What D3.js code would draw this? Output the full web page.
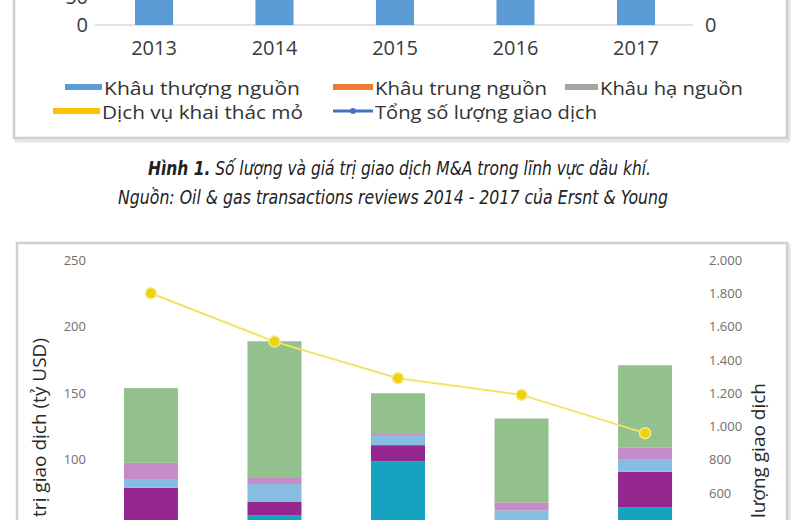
<!DOCTYPE html>
<html lang="vi">
<head>
<meta charset="UTF-8">
<title>Giao dịch M&amp;A dầu khí</title>
<script src="https://cdn.jsdelivr.net/npm/d3@7"></script>
<style>
  html, body { margin: 0; padding: 0; background: #fff; }
  svg { display: block; font-family: 'Open Sans', 'Noto Sans', sans-serif; }
</style>
</head>
<body>
<svg id="page" width="800" height="520"></svg>
<script>
// ---- Hình 1 (chỉ thấy phần dưới) ----
const years = ["2013", "2014", "2015", "2016", "2017"];
const upstreamValues = [95, 85, 70, 75, 90];   // đỉnh cột nằm ngoài khung ảnh
const topTicks = [0, 50];
const legendNames = ["Khâu thượng nguồn", "Khâu trung nguồn", "Khâu hạ nguồn",
                     "Dịch vụ khai thác mỏ", "Tổng số lượng giao dịch"];
const legendColors = ["#5b9bd5", "#ed7d31", "#a5a5a5", "#ffc000", "#4472c4"];
const captionBold = "Hình 1.";
const captionLine1 = " Số lượng và giá trị giao dịch M&A trong lĩnh vực dầu khí.";
const captionLine2 = "Nguồn: Oil & gas transactions reviews 2014 - 2017 của Ersnt & Young";

// ---- Hình 2 (chỉ thấy phần trên) ----
const seriesKeys = ["nhom1", "nhom2", "nhom3", "nhom4", "nhom5", "nhom6"];   // từ dưới lên
const seriesColors = ["#2f5f9e", "#15a3c1", "#93268f", "#86bde0", "#c58ac8", "#93c18e"];
const nhom1 = [20, 30, 20, 20, 30];
const nhom2 = [20, 28.5, 79, 20, 34.5];
const nhom3 = [39, 9.8, 12, 10, 26.5];
const nhom4 = [6, 13.5, 7, 12, 9];
const nhom5 = [12.8, 5.2, 2, 6, 9];
const nhom6 = [56, 102, 30, 63, 62];
const dealCount = [1800, 1510, 1290, 1190, 960];
const valueTicks = [100, 150, 200, 250];
const countTicks = [600, 800, 1000, 1200, 1400, 1600, 1800, 2000];
const leftTitle = "Giá trị giao dịch (tỷ USD)";
const rightTitle = "Số lượng giao dịch";

const svg = d3.select("#page");
const vn = d3.formatLocale({ decimal: ",", thousands: ".", grouping: [3], currency: ["", ""] });
const fmtCount = vn.format(",");

// ---------- khung Hình 1 ----------
svg.append("rect").attr("x", 16).attr("y", -10).attr("width", 773).attr("height", 151)
  .attr("fill", "none").attr("stroke", "#e6e6e6").attr("stroke-width", 3);
svg.append("rect").attr("x", 14).attr("y", -10).attr("width", 773).attr("height", 148)
  .attr("fill", "#fff").attr("stroke", "#cfcfcf").attr("stroke-width", 2.5);

const x1 = d3.scaleBand().domain(years).range([94, 696]).paddingInner(0.684).paddingOuter(0.34);
const y1 = d3.scaleLinear().domain([0, 50]).range([25, -3]);

svg.append("line").attr("x1", 95).attr("x2", 693).attr("y1", y1(0)).attr("y2", y1(0))
  .attr("stroke", "#d9d9d9").attr("stroke-width", 1.5);

svg.append("g").selectAll("rect").data(upstreamValues).join("rect")
  .attr("x", (d, i) => x1(years[i]))
  .attr("width", x1.bandwidth())
  .attr("y", d => y1(d))
  .attr("height", d => y1(0) - y1(d))
  .attr("fill", legendColors[0]);

const axL1 = svg.append("g").attr("transform", "translate(88,0)")
  .call(d3.axisLeft(y1).tickValues(topTicks).tickSize(0).tickPadding(0));
const axR1 = svg.append("g").attr("transform", "translate(705,0)")
  .call(d3.axisRight(y1).tickValues([0]).tickSize(0).tickPadding(0));
const axB1 = svg.append("g").attr("transform", `translate(0,${y1(0)})`)
  .call(d3.axisBottom(x1).tickSize(0).tickPadding(16));
[axL1, axR1, axB1].forEach(g => {
  g.select(".domain").remove();
  g.selectAll("text").attr("font-size", 20).attr("fill", "#3a3a3a")
    .attr("font-family", "'Open Sans', sans-serif");
});

// chú giải
const legendPos = [
  { x: 65, y: 88, w: 37, tx: 104, tl: 196 },
  { x: 333, y: 88, w: 40, tx: 375, tl: 172 },
  { x: 565, y: 88, w: 33, tx: 600, tl: 143 },
  { x: 53, y: 112, w: 47, tx: 102, tl: 201 },
  { x: 333, y: 112, w: 40, tx: 375, tl: 222 }
];
const lg = svg.append("g").selectAll("g").data(legendNames).join("g");
lg.each(function (name, i) {
  const p = legendPos[i];
  const g = d3.select(this);
  if (i < 4) {
    g.append("rect").attr("x", p.x).attr("y", p.y - 4).attr("width", p.w).attr("height", 6)
      .attr("fill", legendColors[i]);
  } else {
    g.append("line").attr("x1", p.x).attr("x2", p.x + p.w).attr("y1", p.y - 1).attr("y2", p.y - 1)
      .attr("stroke", legendColors[i]).attr("stroke-width", 3);
    g.append("circle").attr("cx", p.x + p.w / 2).attr("cy", p.y - 1).attr("r", 3)
      .attr("fill", legendColors[i]);
  }
  g.append("text").attr("x", p.tx).attr("y", p.y + 7)
    .attr("font-size", 19).attr("fill", "#333")
    .attr("textLength", p.tl).attr("lengthAdjust", "spacingAndGlyphs")
    .text(name);
});

// chú thích hình
const capFont = "'Liberation Sans Narrow', 'DejaVu Sans Condensed', sans-serif";
const cap1 = svg.append("text").attr("x", 148).attr("y", 175)
  .attr("font-family", capFont)
  .attr("font-style", "italic").attr("font-size", 19).attr("fill", "#222")
  .attr("textLength", 503).attr("lengthAdjust", "spacingAndGlyphs");
cap1.append("tspan").attr("font-weight", "bold").text(captionBold);
cap1.append("tspan").text(captionLine1);
svg.append("text").attr("x", 118).attr("y", 204)
  .attr("font-family", capFont)
  .attr("font-style", "italic").attr("font-size", 19).attr("fill", "#222")
  .attr("textLength", 550).attr("lengthAdjust", "spacingAndGlyphs")
  .text(captionLine2);

// ---------- khung Hình 2 ----------
svg.append("rect").attr("x", 19).attr("y", 245).attr("width", 770).attr("height", 300)
  .attr("fill", "none").attr("stroke", "#e6e6e6").attr("stroke-width", 3);
svg.append("rect").attr("x", 17).attr("y", 243).attr("width", 770).attr("height", 300)
  .attr("fill", "#fff").attr("stroke", "#d0d0d0").attr("stroke-width", 2.5);

const table = years.map((yr, i) => ({
  year: yr, nhom1: nhom1[i], nhom2: nhom2[i], nhom3: nhom3[i],
  nhom4: nhom4[i], nhom5: nhom5[i], nhom6: nhom6[i], count: dealCount[i]
}));
const stacked = d3.stack().keys(seriesKeys)(table);

const x2 = d3.scaleBand().domain(years).range([89, 707]).paddingInner(0.563).paddingOuter(0.283);
const yL = d3.scaleLinear().domain([0, 250]).range([593, 260]);
const yR = d3.scaleLinear().domain([0, 2000]).range([593, 260]);

svg.append("g").selectAll("g").data(stacked).join("g")
  .attr("fill", (d, i) => seriesColors[i])
  .selectAll("rect").data(d => d).join("rect")
  .attr("x", d => x2(d.data.year))
  .attr("width", x2.bandwidth())
  .attr("y", d => yL(d[1]))
  .attr("height", d => yL(d[0]) - yL(d[1]));

const axL2 = svg.append("g").attr("transform", "translate(86,0)")
  .call(d3.axisLeft(yL).tickValues(valueTicks).tickSize(0).tickPadding(0));
const axR2 = svg.append("g").attr("transform", "translate(709,0)")
  .call(d3.axisRight(yR).tickValues(countTicks).tickSize(0).tickPadding(0).tickFormat(fmtCount));
[axL2, axR2].forEach(g => {
  g.select(".domain").remove();
  g.selectAll("text").attr("font-size", 13).attr("fill", "#6e6e6e")
    .attr("font-family", "'Open Sans', sans-serif");
});

// đường số lượng giao dịch
const line = d3.line()
  .x(d => x2(d.year) + x2.bandwidth() / 2)
  .y(d => yR(d.count));
svg.append("path").datum(table).attr("d", line)
  .attr("fill", "none").attr("stroke", "#f4e264").attr("stroke-width", 2);
svg.append("g").selectAll("circle").data(table).join("circle")
  .attr("cx", d => x2(d.year) + x2.bandwidth() / 2)
  .attr("cy", d => yR(d.count))
  .attr("r", 5.5)
  .attr("fill", "#efd10c")
  .attr("stroke", "#f7ea8c").attr("stroke-width", 1.5);

// tiêu đề trục
svg.append("text").attr("transform", "translate(46,338) rotate(-90)")
  .attr("text-anchor", "end").attr("font-size", 19).attr("fill", "#2a2a2a")
  .text(leftTitle);
svg.append("text").attr("transform", "translate(765,383) rotate(-90)")
  .attr("text-anchor", "end").attr("font-size", 19).attr("fill", "#2a2a2a")
  .text(rightTitle);
</script>
</body>
</html>
